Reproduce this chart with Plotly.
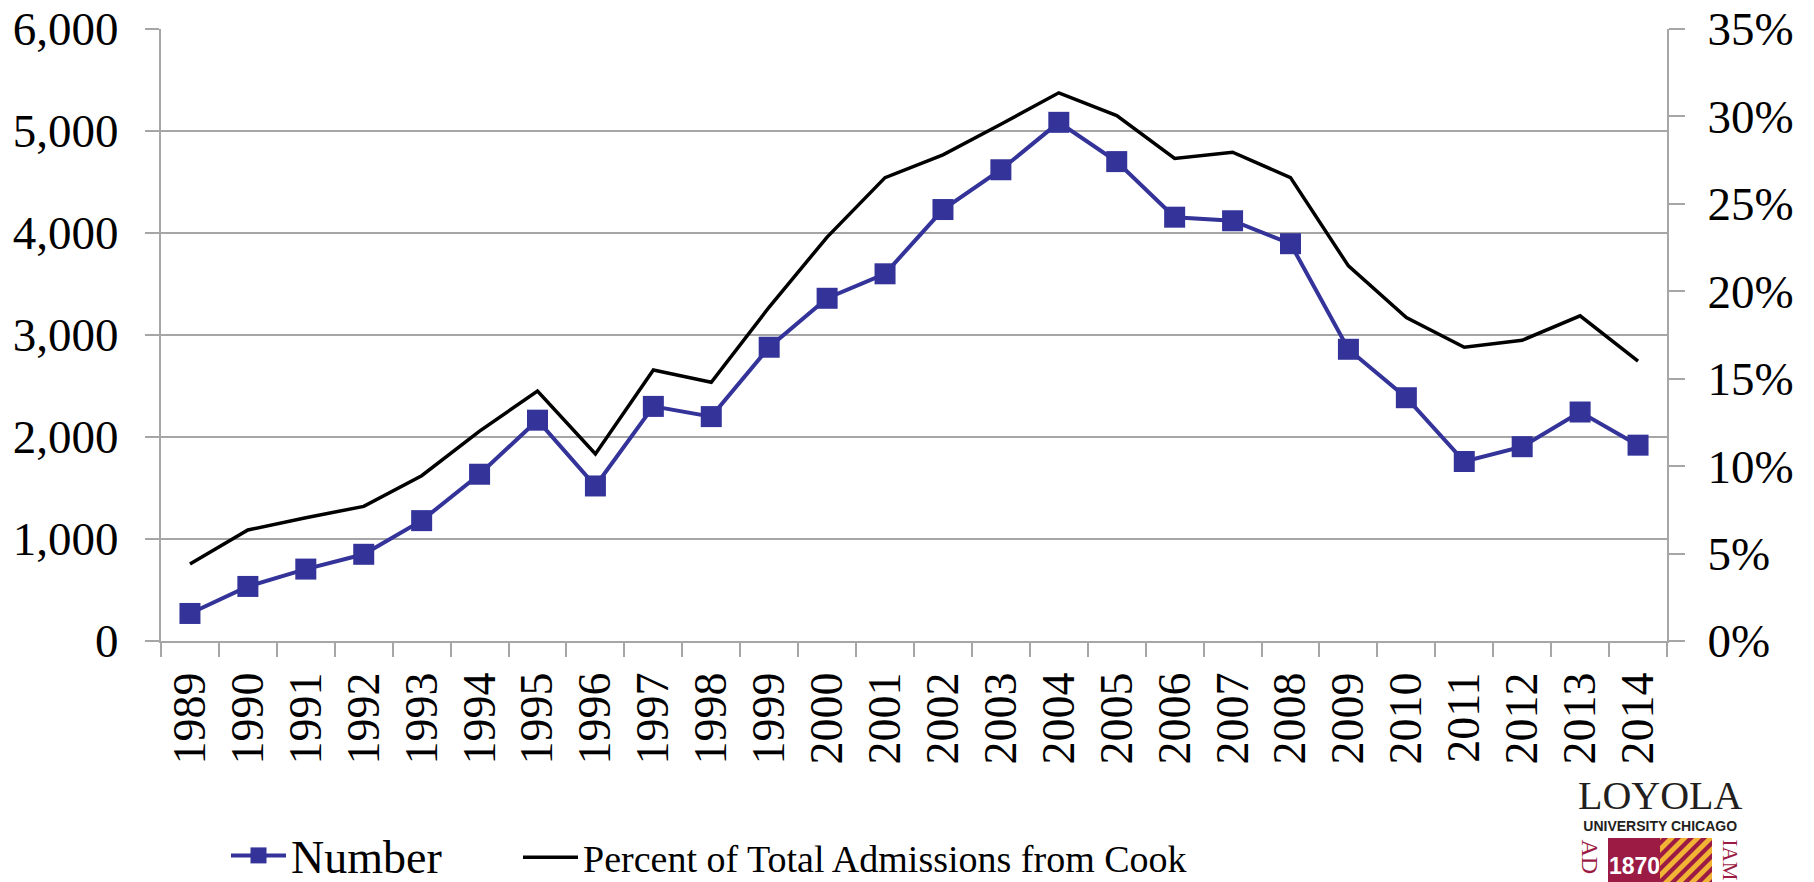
import plotly.graph_objects as go

years = [str(y) for y in range(1989, 2015)]
number = [270, 535, 705, 850, 1180, 1635, 2165, 1520, 2300, 2200,
          2880, 3360, 3600, 4230, 4620, 5085, 4700, 4155, 4120, 3895,
          2860, 2385, 1760, 1905, 2245, 1920]
percent = [4.4, 6.35, 7.05, 7.7, 9.45, 12.0, 14.3, 10.7, 15.5, 14.8,
           19.1, 23.1, 26.5, 27.8, 29.55, 31.35, 30.05, 27.6, 27.95, 26.5,
           21.45, 18.5, 16.8, 17.2, 18.6, 16.0]
left_ticks = [0, 1000, 2000, 3000, 4000, 5000, 6000]
right_ticks = [0, 5, 10, 15, 20, 25, 30, 35]

W, H = 1814, 882
L, R, T, B = 161, 1667, 29, 641
FONT = "Liberation Serif"
GRID = "#A6A6A6"
BLUE = "#333399"
MAROON = "#9B1B45"
GOLD = "#F1B434"

fig = go.Figure()
fig.add_trace(go.Scatter(
    x=years, y=number, name="Number", mode="lines+markers",
    line=dict(color=BLUE, width=4),
    marker=dict(symbol="square", size=21, color=BLUE),
    yaxis="y", legend="legend"))
fig.add_trace(go.Scatter(
    x=years, y=percent, name="Percent of Total Admissions from Cook", mode="lines",
    line=dict(color="black", width=3.5),
    yaxis="y2", legend="legend2"))


def px(x):
    return (x - L) / (R - L)


def py(y):
    return (B - y) / (B - T)


def cx(x):
    return x / W


def cy(y):
    return (H - y) / H


shapes = []
annotations = []

# Logo: LOYOLA University Chicago
annotations.append(dict(text="<span style='font-size:40px'>LOYOLA</span><br>"
                             "<span style='font-family:Liberation Sans;font-size:14px'><b>UNIVERSITY CHICAGO</b></span>",
                        x=px(1660), y=py(836), xref="paper", yref="paper",
                        showarrow=False, xanchor="center", yanchor="bottom",
                        font=dict(family=FONT, size=17, color="#231F20")))
# maroon block
shapes.append(dict(type="rect", xref="paper", yref="paper", x0=px(1608), x1=px(1660),
                   y0=py(900), y1=py(838), fillcolor=MAROON, line=dict(width=0), layer="above"))
# gold striped block
gx0, gx1, gy0, gy1 = 1660, 1712, 838, 900
shapes.append(dict(type="rect", xref="paper", yref="paper", x0=px(gx0), x1=px(gx1),
                   y0=py(gy1), y1=py(gy0), fillcolor=MAROON, line=dict(width=0), layer="above"))


def clip(poly, x0, x1, y0, y1):
    def clip_edge(pts, inside, inter):
        out = []
        n = len(pts)
        for i in range(n):
            cur, prev = pts[i], pts[i - 1]
            if inside(cur):
                if not inside(prev):
                    out.append(inter(prev, cur))
                out.append(cur)
            elif inside(prev):
                out.append(inter(prev, cur))
        return out

    def ix(xc):
        return lambda p, q: (xc, p[1] + (q[1] - p[1]) * (xc - p[0]) / (q[0] - p[0]))

    def iy(yc):
        return lambda p, q: (p[0] + (q[0] - p[0]) * (yc - p[1]) / (q[1] - p[1]), yc)

    pts = poly
    for inside, inter in [(lambda p: p[0] >= x0, ix(x0)), (lambda p: p[0] <= x1, ix(x1)),
                          (lambda p: p[1] >= y0, iy(y0)), (lambda p: p[1] <= y1, iy(y1))]:
        if not pts:
            break
        pts = clip_edge(pts, inside, inter)
    return pts


step = 13
band = 7
c = gx0 - 80
while c < gx1 + 80:
    poly = [(c, gy1), (c + band, gy1), (c + band + (gy1 - gy0), gy0), (c + (gy1 - gy0), gy0)]
    cp = clip(poly, gx0, gx1, gy0, gy1)
    if len(cp) >= 3:
        path = "M " + " L ".join(f"{px(p[0]):.5f},{py(p[1]):.5f}" for p in cp) + " Z"
        shapes.append(dict(type="path", xref="paper", yref="paper", path=path,
                           fillcolor=GOLD, line=dict(width=0), layer="above"))
    c += step

annotations.append(dict(text="<b>1870</b>", x=px(1634), y=py(866), xref="paper", yref="paper",
                        showarrow=False, xanchor="center", yanchor="middle",
                        font=dict(family="Liberation Sans", size=23, color="white")))
annotations.append(dict(text="AD", x=px(1590), y=py(837), xref="paper", yref="paper",
                        showarrow=False, xanchor="center", yanchor="top", textangle=90,
                        font=dict(family=FONT, size=24, color=MAROON)))
annotations.append(dict(text="IAM", x=px(1730), y=py(837), xref="paper", yref="paper",
                        showarrow=False, xanchor="center", yanchor="top", textangle=90,
                        font=dict(family=FONT, size=21, color=MAROON)))

legend_common = dict(orientation="h", xanchor="left", yanchor="top",
                     xref="container", yref="container",
                     bgcolor="rgba(0,0,0,0)", borderwidth=0, itemwidth=55)

fig.update_layout(
    template="none",
    width=W, height=H,
    margin=dict(l=L, r=W - R, t=T, b=H - B, pad=0),
    paper_bgcolor="white", plot_bgcolor="white",
    font=dict(family=FONT, size=46, color="black"),
    showlegend=True,
    legend=dict(x=cx(226), y=cy(819), font=dict(family=FONT, size=46, color="black"),
                **legend_common),
    legend2=dict(x=cx(518), y=cy(826), font=dict(family=FONT, size=38, color="black"),
                 **legend_common),
    xaxis=dict(type="category", range=[-0.5, 25.5], showgrid=False,
               showline=True, linecolor=GRID, linewidth=2,
               ticks="outside", tickson="boundaries", ticklen=14, tickwidth=2, tickcolor=GRID,
               tickangle=-90, tickfont=dict(family=FONT, size=46),
               ticklabelstandoff=11, automargin=False, zeroline=False),
    yaxis=dict(range=[0, 6000], tickvals=left_ticks, tickformat=",",
               showgrid=True, gridcolor=GRID, gridwidth=2,
               showline=True, linecolor=GRID, linewidth=2,
               ticks="outside", ticklen=14, tickwidth=2, tickcolor=GRID,
               tickfont=dict(family=FONT, size=47), ticklabelstandoff=17,
               automargin=False, zeroline=False),
    yaxis2=dict(range=[0, 35], tickvals=right_ticks, ticktext=[f"{v}%" for v in right_ticks],
                overlaying="y", side="right", showgrid=False,
                showline=True, linecolor=GRID, linewidth=2,
                ticks="outside", ticklen=16, tickwidth=2, tickcolor=GRID,
                tickfont=dict(family=FONT, size=47), ticklabelstandoff=13,
                automargin=False, zeroline=False),
    shapes=shapes,
    annotations=annotations,
)

fig.write_html("out.html", post_script="document.body.style.margin='0px';",
               config={"displayModeBar": False})
